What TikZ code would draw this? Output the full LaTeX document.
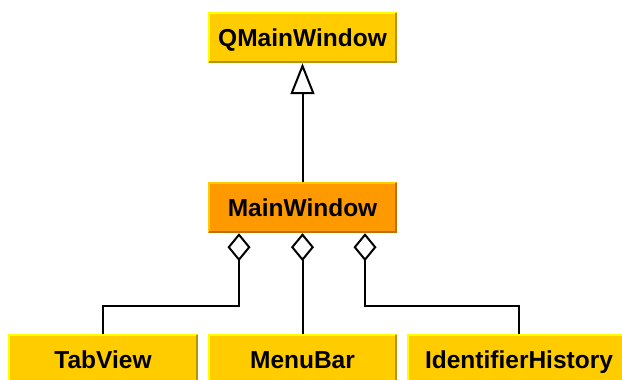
\documentclass[tikz,border=0pt]{standalone}
\usepackage{fontspec}
\setmainfont{Liberation Sans}
\usetikzlibrary{arrows.meta}
\definecolor{yfill}{HTML}{FFCC00}
\definecolor{ylight}{HTML}{FFFF00}
\definecolor{ydark}{HTML}{B8930A}
\definecolor{ofill}{HTML}{FF9900}
\definecolor{olight}{HTML}{FFCC00}
\definecolor{odark}{HTML}{C07000}
\tikzset{
  cls/.style={rectangle, inner sep=0pt, minimum height=51pt, minimum width=189pt,
    font=\fontsize{24.5}{28}\selectfont\bfseries, text height=17.5pt, text depth=0pt},
  ycls/.style={cls, fill=yfill},
  ocls/.style={cls, fill=ofill},
  conn/.style={line width=2pt, black},
  inh/.style={conn, -{Triangle[open, length=31pt, width=24pt, line width=2pt]}},
  agg/.style={conn, {Diamond[open, length=28pt, width=23pt, line width=2pt]}-}
}
\newcommand{\bevel}[3]{%
  \draw[line width=2pt, #2] ([xshift=1pt,yshift=1pt]#1.south west) -- ([xshift=1pt,yshift=-1pt]#1.north west) -- ([xshift=-1pt,yshift=-1pt]#1.north east);
  \draw[line width=2pt, #3] ([xshift=-1pt,yshift=-1pt]#1.north east) -- ([xshift=-1pt,yshift=1pt]#1.south east) -- ([xshift=1pt,yshift=1pt]#1.south west);
}
\begin{document}
\begin{tikzpicture}[x=1pt, y=-1pt]
\useasboundingbox (0,0) rectangle (622,380);
\clip (0,0) rectangle (622,380);
\node[ycls] (q) at (302.5,37.5) {QMainWindow};
\node[ocls] (mw) at (302.5,207.5) {MainWindow};
\node[ycls] (tv) at (103,359.5) {TabView};
\node[ycls] (mb) at (302.5,359.5) {MenuBar};
\node[ycls, minimum width=224pt] (ih) at (519,359.5) {IdentifierHistory};
\bevel{q}{ylight}{ydark}
\bevel{mw}{olight}{odark}
\bevel{tv}{ylight}{ydark}
\bevel{mb}{ylight}{ydark}
\bevel{ih}{ylight}{ydark}
\draw[inh] (mw.north) -- (q.south);
\draw[agg] ([xshift=-63.5pt]mw.south) -- ++(0,73) -| (tv.north);
\draw[agg] (mw.south) -- (mb.north);
\draw[agg] ([xshift=62.5pt]mw.south) -- ++(0,73) -| (ih.north);
\end{tikzpicture}
\end{document}
